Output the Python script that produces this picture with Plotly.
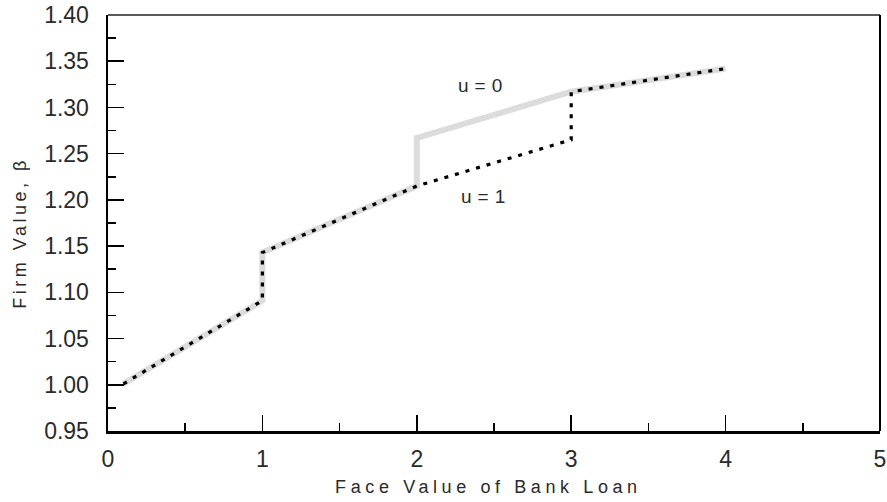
import plotly.graph_objects as go

# ── data ─────────────────────────────────────────────────────
loan_u0 = [0.1, 1.0, 1.0, 2.0, 2.0, 3.0, 4.0]
value_u0 = [1.001, 1.091, 1.143, 1.215, 1.267, 1.317, 1.342]

loan_u1 = [0.1, 1.0, 1.0, 2.0, 3.0, 3.0, 4.0]
value_u1 = [1.001, 1.091, 1.143, 1.215, 1.265, 1.317, 1.342]

x_ticks = [0, 1, 2, 3, 4, 5]
y_ticks = [0.95, 1.00, 1.05, 1.10, 1.15, 1.20, 1.25, 1.30, 1.35, 1.40]

FONT = "Liberation Sans"
INK = "#2a2a2a"

fig = go.Figure()

# u=0 : wide light-grey band
fig.add_trace(go.Scatter(
    x=loan_u0, y=value_u0, mode="lines",
    line=dict(color="#dcdcdc", width=6), hoverinfo="skip", showlegend=False))

# u=1 : black dotted line drawn on top
fig.add_trace(go.Scatter(
    x=loan_u1, y=value_u1, mode="lines",
    line=dict(color="black", width=3.2, dash="4px,7px"),
    hoverinfo="skip", showlegend=False))

# labels (letter-spacing is added afterwards in the page script)
fig.add_annotation(x=2.43, y=1.324, text="u=0", showarrow=False,
                   font=dict(family=FONT, size=19, color=INK))
fig.add_annotation(x=2.45, y=1.204, text="u=1", showarrow=False,
                   font=dict(family=FONT, size=19, color=INK))
fig.add_annotation(xref="paper", yref="paper", x=0.493, y=-0.135,
                   text="Face Value of Bank Loan", showarrow=False,
                   xanchor="center", yanchor="middle",
                   font=dict(family=FONT, size=18, color=INK))
fig.add_annotation(xref="paper", yref="paper", x=-0.114, y=0.476,
                   text="Firm Value, β", showarrow=False, textangle=-90,
                   xanchor="center", yanchor="middle",
                   font=dict(family=FONT, size=18, color=INK))

# top / right frame lines
fig.add_shape(type="line", xref="paper", yref="paper", x0=0, x1=1, y0=1, y1=1,
              line=dict(color="#5a5a5a", width=2))
fig.add_shape(type="line", xref="paper", yref="paper", x0=1, x1=1, y0=0, y1=1,
              line=dict(color="black", width=2))

fig.update_xaxes(
    range=[0, 5], tickvals=x_ticks, ticktext=[str(v) for v in x_ticks],
    showgrid=False, zeroline=False, automargin=False,
    showline=True, linecolor="black", linewidth=2.5,
    ticks="inside", ticklen=16, tickwidth=1.5, tickcolor="black",
    minor=dict(dtick=0.5, ticks="inside", ticklen=8, tickwidth=1.5, tickcolor="black"),
    tickfont=dict(family=FONT, size=23, color=INK), ticklabelstandoff=6)

fig.update_yaxes(
    range=[0.95, 1.40], tickvals=y_ticks, ticktext=[f"{v:.2f}" for v in y_ticks],
    showgrid=False, zeroline=False, automargin=False,
    showline=True, linecolor="black", linewidth=2.5,
    ticks="inside", ticklen=16, tickwidth=1.5, tickcolor="black",
    minor=dict(dtick=0.025, ticks="inside", ticklen=8, tickwidth=1.5, tickcolor="black"),
    tickfont=dict(family=FONT, size=23, color=INK), ticklabelstandoff=12)

fig.update_layout(
    width=887, height=502,
    margin=dict(l=108, r=7, t=15, b=71),
    plot_bgcolor="white", paper_bgcolor="white",
)

# drop the page margin and widen the letter spacing of the text labels
page_js = """
document.body.style.margin = '0';
var gd = document.getElementById('{plot_id}');
var sp = ['6px', '6px', '4.6px', '3.5px'];
gd.querySelectorAll('.annotation-text').forEach(function (t, i) {
    t.style.letterSpacing = sp[i] || '0px';
});
"""

fig.write_html("out.html", post_script=page_js,
               config={"displayModeBar": False, "staticPlot": True})
